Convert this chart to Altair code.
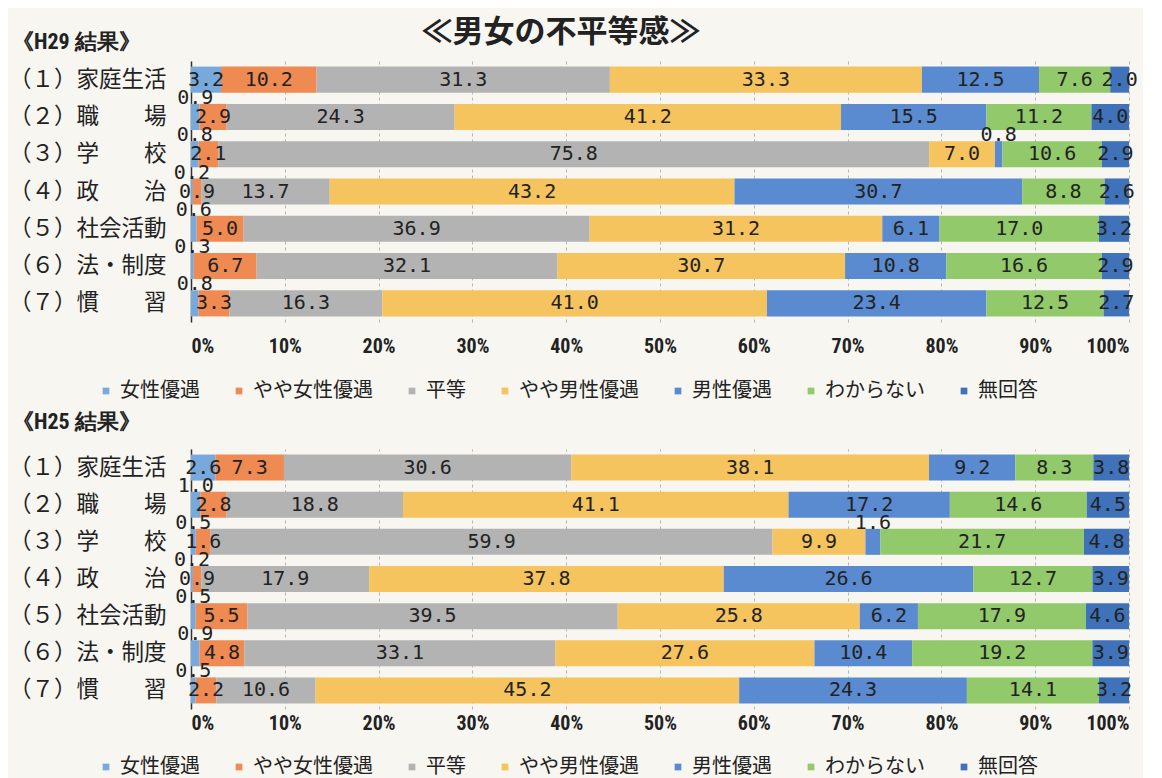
import altair as alt
import pandas as pd

categories = ["女性優遇", "やや女性優遇", "平等", "やや男性優遇", "男性優遇", "わからない", "無回答"]
colors = ["#78a9dc", "#ee8a52", "#b3b3b3", "#f6c45e", "#5a8bd0", "#92c96a", "#3f72b8"]
row_labels = ["（１）家庭生活", "（２）職　　場", "（３）学　　校", "（４）政　　治",
              "（５）社会活動", "（６）法・制度", "（７）慣　　習"]

h29_values = [
    [3.2, 10.2, 31.3, 33.3, 12.5, 7.6, 2.0],
    [0.9, 2.9, 24.3, 41.2, 15.5, 11.2, 4.0],
    [0.8, 2.1, 75.8, 7.0, 0.8, 10.6, 2.9],
    [0.2, 0.9, 13.7, 43.2, 30.7, 8.8, 2.6],
    [0.6, 5.0, 36.9, 31.2, 6.1, 17.0, 3.2],
    [0.3, 6.7, 32.1, 30.7, 10.8, 16.6, 2.9],
    [0.8, 3.3, 16.3, 41.0, 23.4, 12.5, 2.7],
]
h25_values = [
    [2.6, 7.3, 30.6, 38.1, 9.2, 8.3, 3.8],
    [1.0, 2.8, 18.8, 41.1, 17.2, 14.6, 4.5],
    [0.5, 1.6, 59.9, 9.9, 1.6, 21.7, 4.8],
    [0.2, 0.9, 17.9, 37.8, 26.6, 12.7, 3.9],
    [0.5, 5.5, 39.5, 25.8, 6.2, 17.9, 4.6],
    [0.9, 4.8, 33.1, 27.6, 10.4, 19.2, 3.9],
    [0.5, 2.2, 10.6, 45.2, 24.3, 14.1, 3.2],
]

CJK = "Noto Sans CJK JP"
NUM = "DejaVu Sans Mono"
AXF = "Liberation Sans Narrow, Roboto Condensed, DejaVu Sans Condensed, Roboto, sans-serif"


def make_df(values):
    recs = []
    for r, row in zip(row_labels, values):
        for i, (c, v) in enumerate(zip(categories, row)):
            recs.append({
                "row": r, "cat": c, "order": i, "value": v,
                "label": f"{v:.1f}",
                "above": bool(c in ("女性優遇", "男性優遇") and v < 2),
            })
    return pd.DataFrame(recs)


def panel(values, title, height, label_pad, legend_y, title_offset):
    df = make_df(values)
    base = alt.Chart(df).transform_stack(
        stack="value", groupby=["row"],
        sort=[alt.SortField("order", "ascending")],
        as_=["x0", "x1"], offset="normalize",
    ).transform_calculate(mid="(datum.x0 + datum.x1) / 2")

    xaxis = alt.Axis(format=".0%", values=[i / 10 for i in range(11)], grid=True,
                     gridDash=[3, 3], gridColor="#888", gridOpacity=0.6,
                     domain=False, ticks=False, labelFont=AXF, labelFontSize=20,
                     labelFontWeight="bold", labelColor="#222", labelPadding=label_pad,
                     title=None)
    xs = alt.Scale(domain=[0, 1], nice=False)
    ys = alt.Scale(paddingInner=0.3, paddingOuter=0.15)
    yaxis = alt.Axis(title=None, ticks=False, domain=True, domainColor="#333",
                     domainWidth=1.5, labelFont=CJK, labelFontSize=22.5,
                     labelColor="#222", labelPadding=25)
    y = alt.Y("row:N", sort=row_labels, scale=ys, axis=yaxis)

    bars = base.mark_bar().encode(
        x=alt.X("x0:Q", scale=xs, axis=xaxis),
        x2="x1:Q",
        y=y,
        color=alt.Color("cat:N", sort=categories,
                        scale=alt.Scale(domain=categories, range=colors),
                        legend=alt.Legend(title=None, orient="none", direction="horizontal",
                                          legendX=-95, legendY=legend_y,
                                          symbolType="square", symbolSize=45,
                                          symbolStrokeWidth=0, labelFont=CJK,
                                          labelFontSize=20, labelColor="#222",
                                          labelOffset=4, columnPadding=29)),
    )
    inside = base.transform_filter("!datum.above").mark_text(
        font=NUM, fontSize=20, color="#222"
    ).encode(x=alt.X("mid:Q", scale=xs), y=alt.Y("row:N", sort=row_labels, scale=ys),
             text="label:N")
    above = base.transform_filter("datum.above").mark_text(
        font=NUM, fontSize=20, color="#222", dy=-19
    ).encode(x=alt.X("mid:Q", scale=xs), y=alt.Y("row:N", sort=row_labels, scale=ys),
             text="label:N")

    return alt.layer(bars, inside, above).properties(
        width=938, height=height,
        title=alt.TitleParams(title, anchor="start", frame="group", dx=-179, fontSize=22,
                              font=AXF, fontWeight="bold", color="#222",
                              offset=title_offset),
    )


top = panel(h29_values, "《H29 結果》", 261, 14, 320, 7)
bottom = panel(h25_values, "《H25 結果》", 260, 4, 308, 15)

chart = alt.vconcat(top, bottom, spacing=10).resolve_scale(color="independent").properties(
    title=alt.TitleParams("≪男女の不平等感≫", fontSize=31, font=CJK, fontWeight="bold",
                          anchor="middle", color="#222", dx=-12, offset=-18),
    background="#f7f6f1",
    padding={"left": 0, "top": 9, "right": 5, "bottom": 2},
).configure_view(stroke=None)

chart.save("out.html", embed_options={"renderer": "svg", "actions": False})
